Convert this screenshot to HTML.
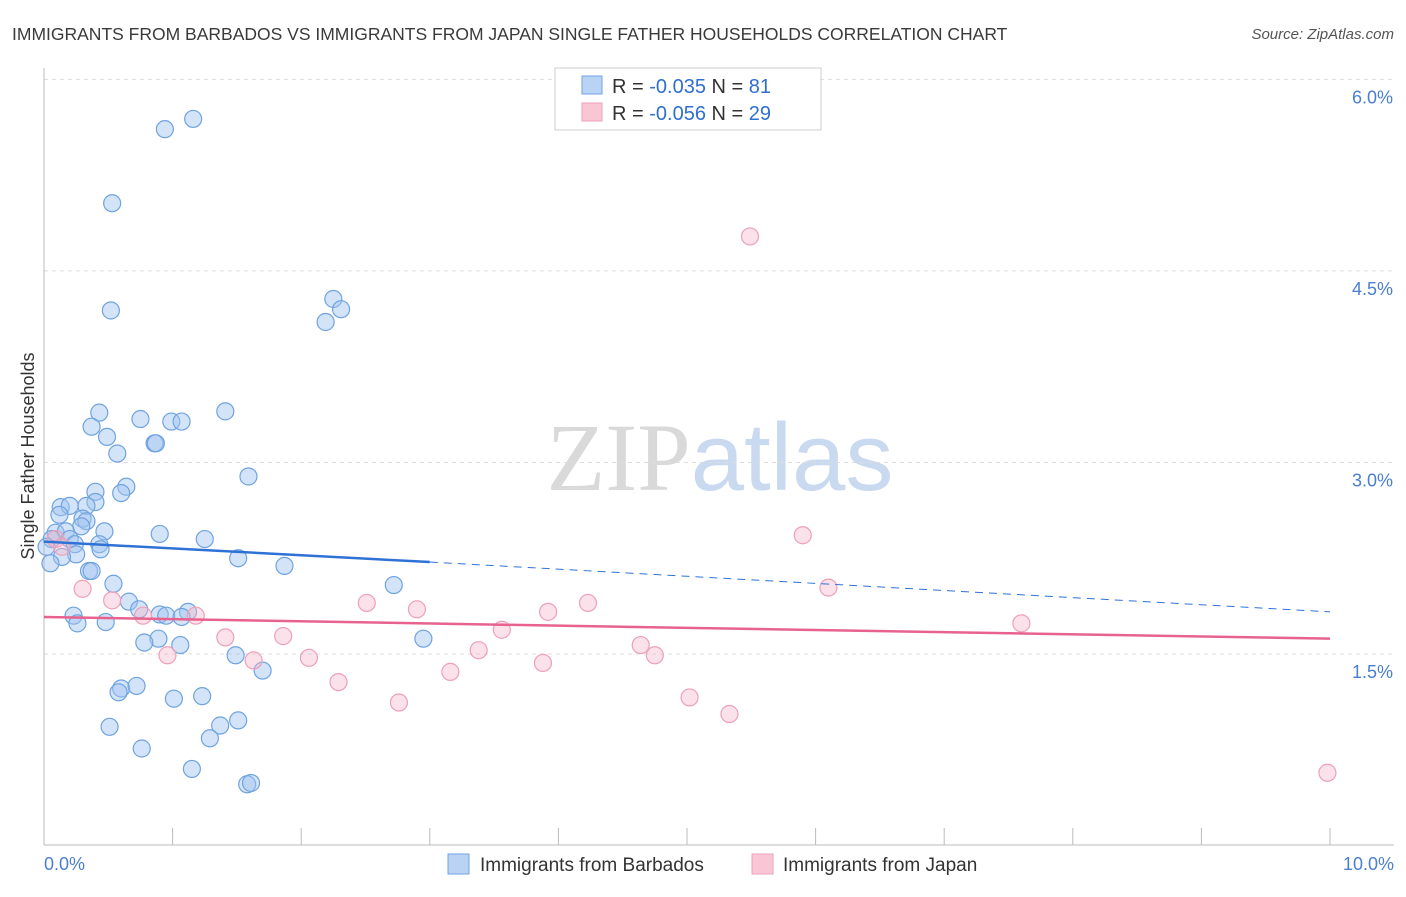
<!DOCTYPE html>
<html><head><meta charset="utf-8"><style>
body{margin:0;background:#fff;font-family:"Liberation Sans",sans-serif;}
svg text{font-family:"Liberation Sans",sans-serif;}
</style></head><body>
<svg id="chart" width="1406" height="892" xmlns="http://www.w3.org/2000/svg">
<text x="12" y="40" font-size="17.5" fill="#3a3a3a">IMMIGRANTS FROM BARBADOS VS IMMIGRANTS FROM JAPAN SINGLE FATHER HOUSEHOLDS CORRELATION CHART</text>
<text x="1394" y="39" font-size="15" fill="#555" font-style="italic" text-anchor="end">Source: ZipAtlas.com</text>
<text x="720" y="490" font-size="96" text-anchor="middle"><tspan fill="#d9d9d9" font-family="Liberation Serif">ZIP</tspan><tspan fill="#c9daf0">atlas</tspan></text>
<text transform="translate(34,456) rotate(-90)" font-size="18" fill="#333" text-anchor="middle">Single Father Households</text>
<g id="grid"></g><g id="marks"></g>
<g>
<rect x="555" y="68" width="266" height="62" fill="#fff" stroke="#ccc"/>
<rect x="582" y="76" width="20" height="18" fill="#b9d3f5" stroke="#6fa3e0"/>
<rect x="582" y="103" width="20" height="18" fill="#f9c6d5" stroke="#eea0b8"/>
<text x="612" y="93" font-size="20" fill="#333">R = <tspan fill="#2f6fd0">-0.035</tspan>   N = <tspan fill="#2f6fd0">81</tspan></text>
<text x="612" y="120" font-size="20" fill="#333">R = <tspan fill="#2f6fd0">-0.056</tspan>   N = <tspan fill="#2f6fd0">29</tspan></text>
</g>
<g>
<rect x="448" y="854" width="21" height="20" fill="#b9d3f5" stroke="#6fa3e0"/>
<text x="480" y="871" font-size="19" fill="#333">Immigrants from Barbados</text>
<rect x="752" y="854" width="21" height="20" fill="#f9c6d5" stroke="#eea0b8"/>
<text x="783" y="871" font-size="19" fill="#333">Immigrants from Japan</text>
</g>
</svg>
<script>
const yTicks=[1.5,3.0,4.5,6.0];
const yTickLabels=["1.5%","3.0%","4.5%","6.0%"];
const xTicks=[0,1,2,3,4,5,6,7,8,9,10];
const blueX=[0.94,1.16,0.53,0.52,2.25,2.31,2.19,0.43,0.75,0.99,1.07,1.41,0.37,0.49,0.86,0.87,0.57,0.40,0.64,0.60,1.59,0.13,0.20,0.40,0.33,0.30,0.33,0.29,0.47,0.12,0.09,0.17,0.06,0.02,0.20,0.24,0.43,0.44,0.25,0.14,0.90,1.25,1.51,1.87,2.72,0.05,0.35,0.37,0.54,0.66,0.74,0.23,0.26,0.48,0.90,0.95,1.12,1.07,0.89,0.78,1.06,1.49,1.70,2.95,0.60,0.58,0.72,1.01,1.23,0.51,1.51,1.37,1.29,0.76,1.15,1.58,1.61];
const blueY=[5.61,5.69,5.03,4.19,4.28,4.20,4.10,3.39,3.34,3.32,3.32,3.40,3.28,3.20,3.15,3.15,3.07,2.77,2.81,2.76,2.89,2.65,2.66,2.69,2.66,2.56,2.54,2.50,2.46,2.59,2.45,2.46,2.40,2.34,2.40,2.36,2.36,2.32,2.28,2.26,2.44,2.40,2.25,2.19,2.04,2.21,2.15,2.15,2.05,1.91,1.85,1.80,1.74,1.75,1.81,1.80,1.83,1.79,1.62,1.59,1.57,1.49,1.37,1.62,1.23,1.20,1.25,1.15,1.17,0.93,0.98,0.94,0.84,0.76,0.60,0.48,0.49];
const pinkX=[5.49,5.90,6.10,7.60,9.98,0.09,0.14,0.30,0.53,0.77,1.18,1.41,1.86,2.06,2.29,2.51,2.76,2.90,3.16,3.38,3.56,3.92,3.88,4.23,4.64,4.75,5.02,5.33,0.96,1.63];
const pinkY=[4.77,2.43,2.02,1.74,0.57,2.40,2.34,2.01,1.92,1.80,1.80,1.63,1.64,1.47,1.28,1.90,1.12,1.85,1.36,1.53,1.69,1.83,1.43,1.90,1.57,1.49,1.16,1.03,1.49,1.45];
const blueTrend=[2.38,2.22,1.83]; // at x=0, 3, 10
const pinkTrend=[1.79,1.62]; // at x=0,10
const NS="http://www.w3.org/2000/svg";
const sx=v=>44+v*128.6, sy=v=>654-(v-1.5)*127.7;
function mk(tag,a,parent){const e=document.createElementNS(NS,tag);for(const k in a)e.setAttribute(k,a[k]);parent.appendChild(e);return e;}
const grid=document.getElementById('grid'),marks=document.getElementById('marks');
yTicks.forEach((t,i)=>{
 const l=mk('line',{x1:44,x2:1394,y1:sy(t),y2:sy(t),stroke:'#ddd','stroke-dasharray':'4,4'},grid);
 
 
 const tx=mk('text',{x:1393,y:sy(t)+24,'font-size':18,fill:'#4a7fd0','text-anchor':'end'},grid);
 tx.textContent=yTickLabels[i];
 
 
});
const ax=mk('line',{x1:44,x2:1394,y1:845,y2:845,stroke:'#bbb'},grid);


const ay=mk('line',{x1:44,x2:44,y1:68,y2:845,stroke:'#bbb'},grid);


xTicks.forEach(t=>{const l=mk('line',{x1:sx(t),x2:sx(t),y1:828,y2:845,stroke:'#bbb'},grid);
 
 });
[[0,'0.0%','start',44],[10,'10.0%','end',1394]].forEach(d=>{const t=mk('text',{x:d[3],y:870,'font-size':18,fill:'#4a7fd0','text-anchor':d[2]},grid);t.textContent=d[1];
 
 });
blueX.forEach((x,i)=>{const c=mk('circle',{cx:sx(x),cy:sy(blueY[i]),r:8.5,fill:'rgba(160,196,240,0.45)',stroke:'#6fa3e0','stroke-width':1.2},marks);
 
 });
pinkX.forEach((x,i)=>{const c=mk('circle',{cx:sx(x),cy:sy(pinkY[i]),r:8.5,fill:'rgba(245,180,200,0.4)',stroke:'#eea0b8','stroke-width':1.2},marks);
 
 });
const b1=mk('line',{x1:sx(0),y1:sy(blueTrend[0]),x2:sx(3),y2:sy(blueTrend[1]),stroke:'#2f72d6','stroke-width':2.5},marks);


const b2=mk('line',{x1:sx(3),y1:sy(blueTrend[1]),x2:sx(10),y2:sy(blueTrend[2]),stroke:'#2f72d6','stroke-width':1,'stroke-dasharray':'8,6'},marks);


const p1=mk('line',{x1:sx(0),y1:sy(pinkTrend[0]),x2:sx(10),y2:sy(pinkTrend[1]),stroke:'#e8628e','stroke-width':2.5},marks);


</script>
</body></html>
